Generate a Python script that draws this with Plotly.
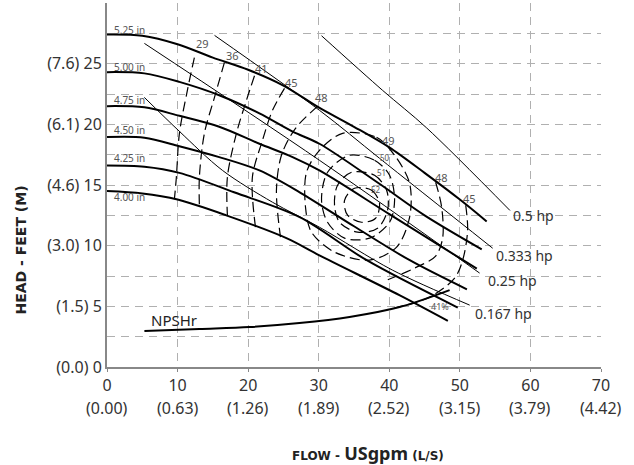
import plotly.graph_objects as go

# ---------------- data (flow USgpm, head ft) ----------------
flow_ticks = [0, 10, 20, 30, 40, 50, 60, 70]
flow_ticks_ls = ["(0.00)", "(0.63)", "(1.26)", "(1.89)", "(2.52)", "(3.15)", "(3.79)", "(4.42)"]
head_ticks = [0, 5, 10, 15, 20, 25]
head_tick_text = ["(0.0) 0", "(1.5) 5", "(3.0) 10", "(4.6) 15", "(6.1) 20", "(7.6) 25"]

imp_names = ["5.25 in", "5.00 in", "4.75 in", "4.50 in", "4.25 in", "4.00 in"]
imp_525_x = [0, 5, 10, 15, 20, 25, 30, 35, 40, 45, 50, 53.8]
imp_525_y = [27.4, 27.3, 26.6, 25.5, 24.5, 23.2, 21.4, 19.8, 18.1, 16.0, 13.8, 12.0]
imp_500_x = [0, 5.3, 10.25, 15.9, 21.6, 26.3, 30.1, 38.6, 45, 53.1]
imp_500_y = [24.3, 24.2, 23.5, 22.4, 20.9, 19.4, 18.4, 15.1, 12.5, 9.7]
imp_475_x = [0, 5.3, 10.25, 15.9, 21.6, 26.3, 30.1, 40, 52.4]
imp_475_y = [21.5, 21.4, 20.7, 19.8, 18.4, 17.3, 16.2, 12.6, 8.1]
imp_450_x = [0, 5.3, 10.25, 15.9, 21.6, 27.3, 35, 42.9, 51.0]
imp_450_y = [18.95, 18.9, 18.2, 17.3, 16.2, 14.4, 11.6, 8.8, 6.4]
imp_425_x = [0, 5.3, 10.25, 18, 27.3, 36.8, 49.7]
imp_425_y = [16.6, 16.5, 16.0, 14.4, 12.35, 8.8, 4.9]
imp_400_x = [0, 5, 10, 16.9, 25.5, 30.1, 41.5, 48.3]
imp_400_y = [14.5, 14.3, 13.8, 12.5, 10.6, 9.2, 5.9, 3.8]
imp_label_y = [27.8, 24.7, 22.0, 19.5, 17.2, 14.0]

hp_names = ["0.5 hp", "0.333 hp", "0.25 hp", "0.167 hp"]
hp_050_x = [30.4, 39.05, 45.3, 57.1]
hp_050_y = [27.3, 22.8, 19.7, 12.9]
hp_033_x = [15.24, 30.12, 38.62, 54.65]
hp_033_y = [27.33, 21.15, 17.2, 9.79]
hp_025_x = [5.3, 30.1, 52.8]
hp_025_y = [26.67, 17.04, 7.74]
hp_017_x = [5.29, 10.26, 16.35, 23.45, 30.11, 40.47, 51.39]
hp_017_y = [22.22, 19.42, 16.21, 13.58, 11.52, 7.98, 5.1]
hp_label_x = [57.2, 54.9, 53.7, 51.8]
hp_label_y = [12.5, 9.2, 7.16, 4.44]

npsh_x = [5.3, 13.09, 20.18, 27.27, 34.37, 41.46, 48.55]
npsh_y = [2.96, 3.13, 3.29, 3.62, 4.12, 4.94, 6.34]

eff29_x = [12.38, 11.39, 10.26, 9.83, 9.55]
eff29_y = [25.5, 22.8, 19.26, 15.64, 13.83]
eff36_x = [16.64, 15.22, 13.8, 13.09, 13.09]
eff36_y = [25.1, 22.2, 19.26, 15.64, 13.33]
eff41_x = [20.9, 19.76, 18.34, 17.06, 17.06]
eff41_y = [24.0, 21.98, 19.26, 15.64, 12.5]
eff45l_x = [25.15, 23.45, 22.03, 20.6, 21.04]
eff45l_y = [22.96, 21.15, 18.68, 15.64, 11.52]
eff48l_x = [29.83, 26.71, 24.72, 24.01, 24.58]
eff48l_y = [21.48, 19.67, 17.45, 14.57, 10.7]
eff48r_x = [46.57, 47.42, 47.56, 46.57, 43.59, 39.33]
eff48r_y = [15.23, 13.17, 10.62, 9.14, 8.15, 7.08]
eff45r_x = [50.83, 51.1, 50.4, 49.26, 45.72, 40.75]
eff45r_y = [13.33, 11.28, 8.81, 7.33, 5.76, 4.86]
eff49_x = [33.38, 38.2, 40.75, 42.88, 42.88, 41.04, 37.21, 32.24, 28.98, 28.13, 28.27, 30.11, 33.38]
eff49_y = [19.26, 18.93, 17.45, 15.14, 12.35, 9.88, 8.81, 9.47, 11.11, 13.17, 16.05, 17.86, 19.26]
eff50_x = [34.37, 37.91, 40.04, 40.75, 40.04, 37.21, 33.66, 31.25, 30.4, 31.25, 34.37]
eff50_y = [17.45, 17.04, 15.8, 13.74, 11.93, 10.62, 10.62, 11.93, 13.74, 16.05, 17.45]
eff51_x = [34.65, 37.91, 39.62, 39.76, 38.34, 35.5, 32.95, 32.24, 32.67, 34.65]
eff51_y = [16.05, 15.8, 14.57, 12.92, 11.44, 11.11, 11.93, 13.33, 14.98, 16.05]
eff52_x = [35.08, 37.49, 38.62, 38.06, 36.07, 34.09, 33.66, 35.08]
eff52_y = [14.73, 14.57, 13.5, 12.26, 11.93, 12.51, 13.74, 14.73]

eff_labels = ["29", "36", "41", "45", "48", "49", "50", "51", "52", "48", "45", "41%"]
eff_label_x = [13.55, 17.77, 21.9, 26.15, 30.4, 39.9, 39.33, 38.9, 38.06, 47.4, 51.4, 47.13]
eff_label_y = [26.67, 25.68, 24.6, 23.46, 22.2, 18.68, 17.28, 16.05, 14.65, 15.64, 13.9, 5.02]
eff_label_size = [11, 11, 11, 11, 11, 11, 8, 8, 8, 11, 11, 9]

# ---------------- figure ----------------
FONT = "Noto Sans, Open Sans, DejaVu Sans, sans-serif"
BOLDFONT = "DejaVu Sans, Noto Sans, sans-serif"
fig = go.Figure()

def line(x, y, width, dash=None, shape="linear"):
    fig.add_trace(go.Scatter(x=x, y=y, mode="lines", hoverinfo="skip",
                             line=dict(color="black", width=width, dash=dash, shape=shape, smoothing=0.9),
                             showlegend=False))

for xs, ys in [(eff29_x, eff29_y), (eff36_x, eff36_y), (eff41_x, eff41_y),
               (eff45l_x, eff45l_y), (eff48l_x, eff48l_y), (eff48r_x, eff48r_y),
               (eff45r_x, eff45r_y), (eff49_x, eff49_y), (eff50_x, eff50_y),
               (eff51_x, eff51_y), (eff52_x, eff52_y)]:
    line(xs, ys, 1.2, "10px,5px", "spline")

for xs, ys in [(hp_050_x, hp_050_y), (hp_033_x, hp_033_y), (hp_025_x, hp_025_y), (hp_017_x, hp_017_y)]:
    line(xs, ys, 1, None, "spline")

for xs, ys in [(imp_525_x, imp_525_y), (imp_500_x, imp_500_y), (imp_475_x, imp_475_y),
               (imp_450_x, imp_450_y), (imp_425_x, imp_425_y), (imp_400_x, imp_400_y)]:
    line(xs, ys, 2, None, "spline")

line(npsh_x, npsh_y, 2, None, "spline")

ann = []
for name, yy in zip(imp_names, imp_label_y):
    ann.append(dict(x=0.75, y=yy, text=name, xanchor="left", yanchor="middle", showarrow=False,
                    font=dict(size=10, color="#555", family=FONT)))
for name, xx, yy in zip(hp_names, hp_label_x, hp_label_y):
    ann.append(dict(x=xx, y=yy, text=name, xanchor="left", yanchor="middle", showarrow=False,
                    font=dict(size=14, color="#333", family=FONT)))
for t, xx, yy, s in zip(eff_labels, eff_label_x, eff_label_y, eff_label_size):
    ann.append(dict(x=xx, y=yy, text=t, xanchor="center", yanchor="middle", showarrow=False,
                    font=dict(size=s, color="#555", family=FONT)))
ann.append(dict(x=5.9, y=3.87, text="NPSHr", xanchor="left", yanchor="middle", showarrow=False,
                font=dict(size=15, color="#222", family=FONT)))
for xv, t in zip(flow_ticks, flow_ticks_ls):
    ann.append(dict(x=xv, y=0, yref="y", text=t, xanchor="center", yanchor="middle", showarrow=False,
                    yshift=-41, font=dict(size=16, color="#333", family=FONT)))
ann.append(dict(xref="paper", yref="paper", x=0.528, y=-0.236,
                text=("<span style='font-family:DejaVu Sans;font-size:12px'><b>FLOW - </b></span>"
                      "<b>USgpm</b>"
                      "<span style='font-family:DejaVu Sans;font-size:12px'><b> (L/S)</b></span>"),
                xanchor="center", yanchor="middle", showarrow=False,
                font=dict(size=18, color="#222", family=FONT)))
ann.append(dict(xref="paper", yref="paper", x=-0.176, y=0.32, textangle=-90,
                text="<b>HEAD - FEET (M)</b>", xanchor="center", yanchor="middle", showarrow=False,
                font=dict(size=14, color="#222", family=BOLDFONT)))

fig.update_layout(
    width=634, height=465,
    margin=dict(l=107, r=33, t=3, b=98),
    paper_bgcolor="white", plot_bgcolor="white",
    annotations=ann,
    font=dict(family=FONT, color="#333"),
    xaxis=dict(range=[0, 70], tickvals=flow_ticks, ticktext=[str(v) for v in flow_ticks],
               showline=True, linecolor="#888", linewidth=2, ticks="outside", ticklen=3,
               tickcolor="#888", tickfont=dict(size=16, color="#333"),
               showgrid=True, gridcolor="#b0b0b0", griddash="8px,6px", gridwidth=1.2,
               zeroline=False, automargin=False),
    yaxis=dict(range=[0, 30], tickvals=head_ticks, ticktext=head_tick_text,
               showline=True, linecolor="#888", linewidth=2, ticks="",
               tickfont=dict(size=16, color="#333"),
               showgrid=True, gridcolor="#b0b0b0", griddash="8px,6px", gridwidth=1.2,
               minor=dict(dtick=2.5, showgrid=True, gridcolor="#b0b0b0", griddash="8px,6px", gridwidth=1.2),
               zeroline=False, automargin=False),
)

fig.write_html("out.html", config={"displayModeBar": False},
               post_script="document.body.style.margin='0';document.body.style.overflow='hidden';")
